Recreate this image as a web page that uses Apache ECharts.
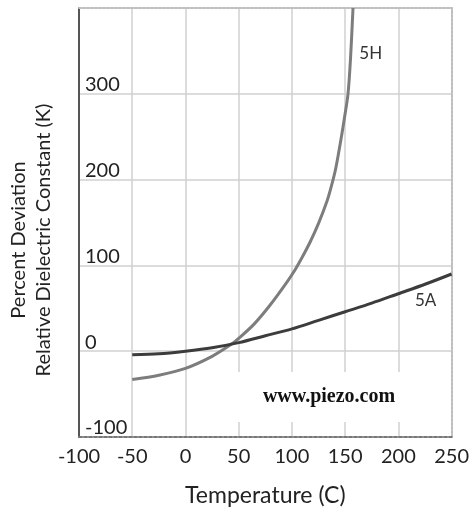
<!DOCTYPE html>
<html>
<head>
<meta charset="utf-8">
<script src="https://cdn.jsdelivr.net/npm/echarts@6/dist/echarts.min.js"></script>
<style>
  html, body { margin: 0; padding: 0; background: #fff; }
  #chart { width: 472px; height: 512px; }
</style>
</head>
<body>
<div id="chart"></div>
<script>
// Temperature (°C) and percent deviation of relative dielectric constant
const temp5H = [-50, -25, 0, 25, 43, 50, 64, 79, 95, 103, 109, 117, 125, 133, 137, 141, 146.5, 150, 152.7, 155, 157.4];
const dev5H  = [-33, -28, -20, -6, 8, 15, 31, 53, 80, 95, 108, 127, 149, 175, 192, 212, 250, 277, 300, 340, 400];

const temp5A = [-50, -25, 0, 25, 50, 75, 100, 125, 150, 175, 200, 225, 250];
const dev5A  = [-4, -3, 0, 4, 10, 18, 26, 36, 46, 56, 67, 78, 90];

const xTicks = { min: -100, max: 250, step: 50 };
const yTicks = { min: -100, max: 400, step: 100 };

const curveLabels = [
  { name: '5H', at: [174, 347] },
  { name: '5A', at: [225.6, 59] }
];

const FONT = 'Lato, "Open Sans", sans-serif';

function pairs(xs, ys) { return xs.map((x, i) => [x, ys[i]]); }

function curveTag(tag) {
  return {
    symbol: 'rect', symbolSize: 1,
    itemStyle: { color: 'rgba(0,0,0,0)' },
    label: { show: true, position: 'inside', formatter: '{b}', color: '#333', fontFamily: FONT, fontSize: 17 },
    data: [{ name: tag.name, coord: tag.at }]
  };
}

const chart = echarts.init(document.getElementById('chart'), null, { renderer: 'canvas' });

chart.setOption({
  animation: false,
  backgroundColor: '#fff',
  grid: { left: 79, right: 20, top: 8, bottom: 72 },
  xAxis: [
    {
      type: 'value', min: xTicks.min, max: xTicks.max, interval: xTicks.step,
      axisLine: { show: true, onZero: false, lineStyle: { color: '#777', width: 2, type: [3, 2] } },
      axisTick: { show: false },
      axisLabel: { color: '#222', fontFamily: FONT, fontSize: 20, margin: 10 },
      splitLine: { show: true, lineStyle: { color: '#d0d0d0', width: 1.5 } },
      name: 'Temperature (C)', nameLocation: 'middle', nameGap: 47,
      nameTextStyle: { color: '#222', fontFamily: FONT, fontSize: 23 }
    },
    {
      type: 'value', position: 'top', min: xTicks.min, max: xTicks.max,
      axisLine: { show: true, onZero: false, lineStyle: { color: '#bdbdbd', width: 2, type: [2, 2] } },
      axisTick: { show: false }, axisLabel: { show: false }, splitLine: { show: false }
    }
  ],
  yAxis: [
    {
      type: 'value', min: yTicks.min, max: yTicks.max, interval: yTicks.step,
      axisLine: { show: true, onZero: false, lineStyle: { color: '#555', width: 2 } },
      axisTick: { show: false },
      axisLabel: {
        inside: true, margin: 6, color: '#222', fontFamily: FONT, fontSize: 20,
        verticalAlign: 'bottom', lineHeight: 18,
        formatter: v => (v >= yTicks.max ? '' : String(v))
      },
      splitLine: { show: true, lineStyle: { color: '#d0d0d0', width: 1.5 } }
    },
    {
      type: 'value', position: 'right', min: yTicks.min, max: yTicks.max,
      axisLine: { show: true, onZero: false, lineStyle: { color: '#bdbdbd', width: 2, type: [2, 2] } },
      axisTick: { show: false }, axisLabel: { show: false }, splitLine: { show: false }
    }
  ],
  series: [
    {
      name: '5H', type: 'line', data: pairs(temp5H, dev5H),
      smooth: 0.3, symbol: 'none', clip: true,
      lineStyle: { color: '#7d7d7d', width: 3 }, z: 3,
      markPoint: curveTag(curveLabels[0])
    },
    {
      name: '5A', type: 'line', data: pairs(temp5A, dev5A),
      smooth: 0.3, symbol: 'none', clip: true,
      lineStyle: { color: '#3c3c3c', width: 3 }, z: 4,
      markPoint: curveTag(curveLabels[1])
    }
  ],
  graphic: [
    {
      type: 'rect', x: 235, y: 372, z: 10,
      shape: { x: 0, y: 0, width: 197, height: 50 },
      style: { fill: '#fff' }
    },
    {
      type: 'text', x: 329, y: 397, z: 11,
      style: {
        text: 'www.piezo.com', fill: '#111', align: 'center', verticalAlign: 'middle',
        font: 'bold 20px "Liberation Serif", "DejaVu Serif", serif'
      }
    },
    {
      type: 'text', x: 19, y: 240, rotation: Math.PI / 2, z: 11,
      style: {
        text: 'Percent Deviation', fill: '#222', align: 'center', verticalAlign: 'middle',
        font: '20px Lato, "Open Sans", sans-serif'
      }
    },
    {
      type: 'text', x: 44, y: 240, rotation: Math.PI / 2, z: 11,
      style: {
        text: 'Relative Dielectric Constant (K)', fill: '#222', align: 'center', verticalAlign: 'middle',
        font: '20px Lato, "Open Sans", sans-serif'
      }
    }
  ]
});
</script>
</body>
</html>
